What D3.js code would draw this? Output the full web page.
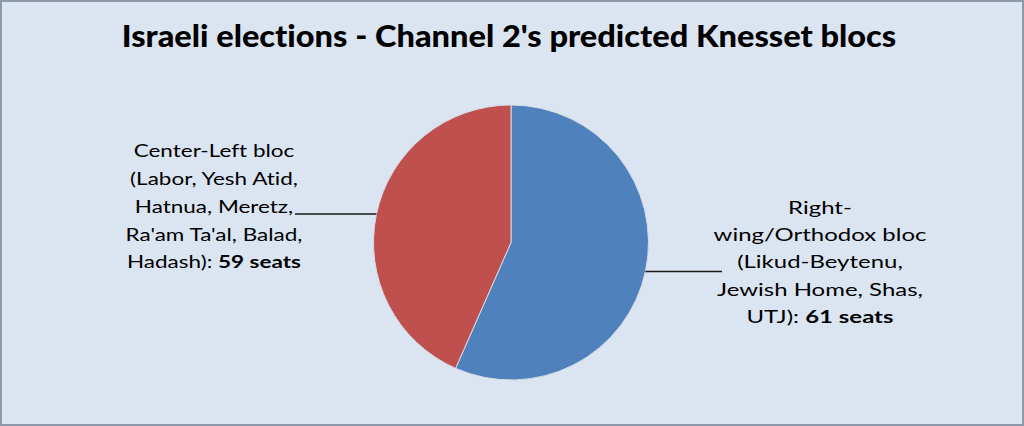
<!DOCTYPE html>
<html>
<head>
<meta charset="utf-8">
<script src="https://cdn.jsdelivr.net/npm/d3@7"></script>
<style>
  body { margin: 0; background: #fff; }
  svg { display: block; }
  text { font-variant-ligatures: none; }
</style>
</head>
<body>
<div id="container"></div>
<script>
// ==============
//	DATA
// ==============

var title = "Israeli elections - Channel 2's predicted Knesset blocs";

// blocs, in drawing order (clockwise from 12 o'clock)
var blocs = ["Right-wing/Orthodox", "Center-Left"];
// seats as written in the labels
var seats = [61, 59];
// slice shares as drawn in the picture (the pie is not in 61:59 proportion)
var sliceShare = [56.6, 43.4];

var labelLines = [
	["Right-", "wing/Orthodox bloc", "(Likud-Beytenu,", "Jewish Home, Shas,", "UTJ): "],
	["Center-Left bloc", "(Labor, Yesh Atid,", "Hatnua, Meretz,", "Ra'am Ta'al, Balad,", "Hadash): "]
];

// ==============
//	OPTIONS
// ==============

var	width = 1024,
	height = 426,
	pieCenter = {x: 511, y: 242.5},
	radius = 137.5;

var	colBg = "#dbe5f1",
	colBorder = "#8c99aa",
	colText = "#000",
	palBloc = ["#4f81bd", "#c0504d"],
	font = "Lato, 'Open Sans', sans-serif";

// label placement, one per bloc
var labelPos = [
	{x: 820, y: 214, lh: 27.2, refLine: 1, refWidth: 213, lineY: 271.5, lineX: 722},
	{x: 214, y: 157.5, lh: 27.7, refLine: 3, refWidth: 177, lineY: 214, lineX: 295}
];

// ==============
//	DRAW
// ==============

var svg = d3.select("#container").append("svg")
	.attr("width", width)
	.attr("height", height);

// background + frame
svg.append("rect")
	.attr("x", 1).attr("y", 1)
	.attr("width", width - 2).attr("height", height - 2)
	.attr("fill", colBg)
	.attr("stroke", colBorder)
	.attr("stroke-width", 2);

// title, squeezed to the reference width
var titleText = svg.append("text")
	.attr("x", 509)
	.attr("y", 47)
	.attr("text-anchor", "middle")
	.style("font-family", font)
	.style("font-weight", "900")
	.style("font-size", "31px")
	.style("fill", colText)
	.text(title);
fitWidth(titleText, 775, 509);

// === pie
var pie = d3.pie()
	.sort(null)
	.value(d => d);

var arc = d3.arc()
	.innerRadius(0)
	.outerRadius(radius);

var arcs = pie(sliceShare);

var g = svg.append("g")
	.attr("transform", "translate(" + pieCenter.x + "," + pieCenter.y + ")");

g.selectAll("path")
	.data(arcs)
	.join("path")
	.attr("d", arc)
	.attr("fill", (d, i) => palBloc[i])
	.attr("stroke", "#d6dce6")
	.attr("stroke-width", 1)
	.append("title")
		.text((d, i) => blocs[i] + ": " + seats[i] + " seats");

// === leader lines: from label to pie edge, horizontal
arcs.forEach(function(d, i) {
	var p = labelPos[i],
		dy = p.lineY - pieCenter.y,
		dx = Math.sqrt(radius * radius - dy * dy),
		edgeX = i === 0 ? pieCenter.x + dx : pieCenter.x - dx;
	svg.append("line")
		.attr("x1", p.lineX).attr("x2", edgeX)
		.attr("y1", p.lineY).attr("y2", p.lineY)
		.attr("stroke", "#1a1a1a")
		.attr("stroke-width", 1.3);
});

// === labels
labelLines.forEach(function(lines, i) {
	var p = labelPos[i];
	var lg = svg.append("g");
	var t = lg.append("text")
		.attr("text-anchor", "middle")
		.style("font-family", font)
		.style("font-size", "18px")
		.style("fill", colText);
	lines.forEach(function(line, j) {
		var ts = t.append("tspan")
			.attr("x", p.x)
			.attr("y", p.y + j * p.lh);
		ts.append("tspan").text(line);
		if (j === lines.length - 1) {
			ts.append("tspan")
				.style("font-weight", "bold")
				.text(seats[i] + " seats");
		}
	});
	// squeeze horizontally around label centre, like the narrower Calibri
	var ref = t.selectAll(":scope > tspan").nodes()[p.refLine];
	var w = ref.getComputedTextLength();
	var sx = p.refWidth / w;
	lg.attr("transform", "translate(" + p.x + ",0) scale(" + sx + ",1) translate(" + (-p.x) + ",0)");
});

// ==============
//	FUNCTIONS
// ==============

// scale text horizontally so it spans the given width around cx
function fitWidth(sel, target, cx) {
	var w = sel.node().getComputedTextLength();
	var sx = target / w;
	sel.attr("transform", "translate(" + cx + ",0) scale(" + sx + ",1) translate(" + (-cx) + ",0)");
}
</script>
</body>
</html>
